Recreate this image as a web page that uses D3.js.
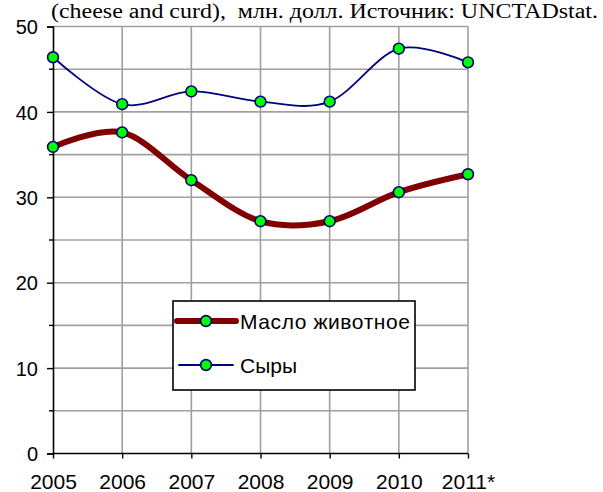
<!DOCTYPE html>
<html><head><meta charset="utf-8">
<script src="https://cdn.jsdelivr.net/npm/d3@7"></script>
<style>body{margin:0;background:#fff;}svg{display:block;}</style>
</head><body>
<script>
const years = ["2005","2006","2007","2008","2009","2010","2011*"];
const butter = [35.9, 37.6, 32.0, 27.2, 27.2, 30.6, 32.7];
const cheese = [46.4, 40.9, 42.4, 41.2, 41.2, 47.4, 45.8];
const yTicks = [0,10,20,30,40,50];
const seriesNames = ["Масло животное","Сыры"];
const titleText = "(cheese and curd),  млн. долл. Источник: UNCTADstat.";

const W=603,H=492;
const svg=d3.select("body").append("svg").attr("width",W).attr("height",H);
const x=d3.scalePoint().domain(years).range([53,468]);
const y=d3.scaleLinear().domain([0,50]).range([453.5,26.5]);

// grid
const grid=svg.append("g").attr("stroke","#a0a0a0").attr("stroke-width",1.6);
grid.selectAll(".v").data(years.slice(1)).join("line")
  .attr("x1",d=>x(d)).attr("x2",d=>x(d)).attr("y1",y(0)).attr("y2",y(50));
grid.selectAll(".h").data(d3.range(5,51,5)).join("line")
  .attr("x1",x(years[0])).attr("x2",x(years[6])).attr("y1",d=>y(d)).attr("y2",d=>y(d));

// axes
const yAxis=svg.append("g").attr("transform",`translate(${x(years[0])},0)`)
  .call(d3.axisLeft(y).tickValues(yTicks).tickSize(6).tickPadding(9));
yAxis.select(".domain").attr("stroke","#000").attr("stroke-width",1.6);
yAxis.selectAll(".tick line").attr("stroke","#000").attr("stroke-width",1.4);
yAxis.selectAll("text").attr("font-family","Liberation Sans, Arial").attr("font-size",20).attr("fill","#000").attr("dy","0.36em");
svg.append("g").selectAll("line").data(d3.range(5,50,10)).join("line")
  .attr("x1",x(years[0])-4).attr("x2",x(years[0])).attr("y1",d=>y(d)).attr("y2",d=>y(d))
  .attr("stroke","#000").attr("stroke-width",1.4);

const xAxis=svg.append("g").attr("transform",`translate(0,${y(0)})`)
  .call(d3.axisBottom(x).tickSize(5).tickPadding(16));
xAxis.select(".domain").attr("stroke","#000").attr("stroke-width",1.6).attr("d",`M${x(years[0])},0H${x(years[6])}`);
xAxis.selectAll(".tick line").attr("stroke","#000").attr("stroke-width",1.4);
xAxis.selectAll("text").attr("font-family","Liberation Sans, Arial").attr("font-size",21).attr("fill","#000");

// lines
const line=d3.line().x((d,i)=>x(years[i])).y(d=>y(d)).curve(d3.curveCardinal.tension(0));
svg.append("path").attr("d",line(cheese)).attr("fill","none").attr("stroke","#000080").attr("stroke-width",1.8);
svg.append("path").attr("d",line(butter)).attr("fill","none").attr("stroke","#800000").attr("stroke-width",6).attr("stroke-linejoin","round");
[cheese,butter].forEach(s=>{
  svg.append("g").selectAll("circle").data(s).join("circle")
    .attr("cx",(d,i)=>x(years[i])).attr("cy",d=>y(d)).attr("r",5.4)
    .attr("fill","#00ff00").attr("stroke","#000080").attr("stroke-width",1.6);
});

// title
svg.append("text").attr("x",51).attr("y",18).attr("font-family","Liberation Serif, Times New Roman")
  .attr("font-size",20).attr("fill","#000").attr("xml:space","preserve").style("white-space","pre")
  .attr("textLength",547).attr("lengthAdjust","spacingAndGlyphs").text(titleText);

// legend
const lg=svg.append("g");
lg.append("rect").attr("x",173).attr("y",301).attr("width",242).attr("height",89)
  .attr("fill","#fff").attr("stroke","#000").attr("stroke-width",1.6);
const entries=[{name:seriesNames[0],c:"#800000",w:6,y:321,x1:177,x2:236,len:170},{name:seriesNames[1],c:"#000080",w:1.8,y:365,x1:179,x2:233,len:null}];
entries.forEach(e=>{
  lg.append("line").attr("x1",e.x1).attr("x2",e.x2).attr("y1",e.y).attr("y2",e.y).attr("stroke",e.c).attr("stroke-width",e.w).attr("stroke-linecap","round");
  lg.append("circle").attr("cx",206).attr("cy",e.y).attr("r",5.4).attr("fill","#00ff00").attr("stroke","#000080").attr("stroke-width",1.6);
  const t=lg.append("text").attr("x",240).attr("y",e.y+8).attr("font-family","Liberation Sans, Arial").attr("font-size",21).attr("fill","#000").text(e.name);
  if(e.len) t.attr("textLength",e.len).attr("lengthAdjust","spacing");
});
</script>
</body></html>
